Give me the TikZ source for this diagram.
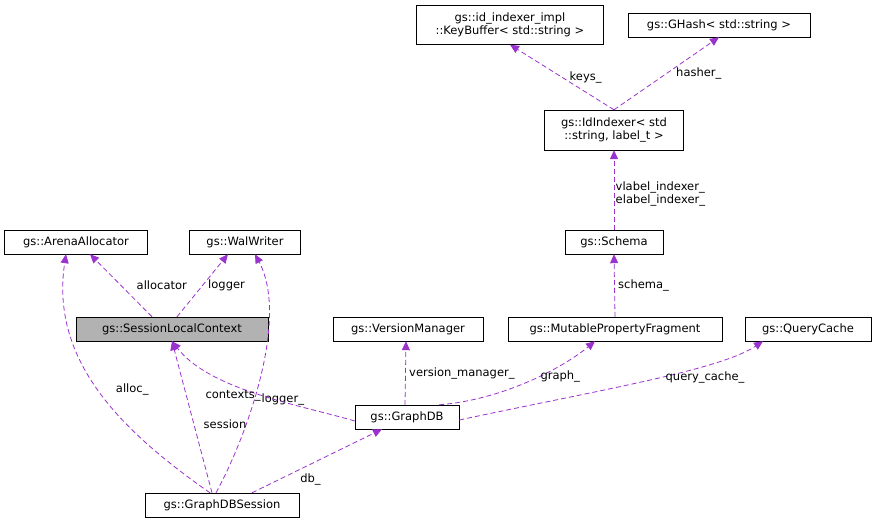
\documentclass[tikz,border=0pt]{standalone}
\usepackage{fontspec}
\setmainfont{DejaVu Sans}
\usetikzlibrary{arrows.meta}
\definecolor{edgepurple}{HTML}{9A32CD}
\tikzset{
  cls/.style={draw, fill=white, inner sep=2pt, align=center, font=\fontsize{11.5}{13}\selectfont},
  rel/.style={draw=edgepurple, line width=0.8pt, dash pattern=on 5pt off 3pt, -{Triangle[width=8pt,length=9pt,fill=edgepurple]}},
  lbl/.style={font=\fontsize{11.5}{12.5}\selectfont, align=left}
}
\begin{document}
\begin{tikzpicture}[x=1pt,y=-1pt]
  \useasboundingbox (0,0) rectangle (875,528);
  % classes
  \node[cls, minimum width=187pt, minimum height=39pt] (keybuf) at (510,25) {gs::id\_indexer\_impl\\::KeyBuffer< std::string >};
  \node[cls, minimum width=182pt, minimum height=24pt] (ghash) at (719,25) {gs::GHash< std::string >};
  \node[cls, minimum width=139pt, minimum height=40pt] (idx) at (614,130) {gs::IdIndexer< std\\::string, label\_t >};
  \node[cls, minimum width=98pt, minimum height=24pt] (schema) at (614,242) {gs::Schema};
  \node[cls, minimum width=143pt, minimum height=24pt] (arena) at (76,242) {gs::ArenaAllocator};
  \node[cls, minimum width=111pt, minimum height=24pt] (wal) at (245,242) {gs::WalWriter};
  \node[cls, fill=black!30, minimum width=192pt, minimum height=24pt] (slc) at (172,329) {gs::SessionLocalContext};
  \node[cls, minimum width=150pt, minimum height=24pt] (vm) at (408,329) {gs::VersionManager};
  \node[cls, minimum width=214pt, minimum height=24pt] (mpf) at (615,329) {gs::MutablePropertyFragment};
  \node[cls, minimum width=126pt, minimum height=24pt] (qc) at (808,329) {gs::QueryCache};
  \node[cls, minimum width=104pt, minimum height=24pt] (gdb) at (407,417) {gs::GraphDB};
  \node[cls, minimum width=154pt, minimum height=24pt] (sess) at (222,505) {gs::GraphDBSession};
  % relations
  \draw[rel] (idx.north) -- (keybuf.south) node[lbl, pos=0.5, right=4pt] {keys\_};
  \draw[rel] (idx.north) -- (ghash.south) node[lbl, pos=0.5, right=6pt] {hasher\_};
  \draw[rel] (schema.north) -- (idx.south) node[lbl, pos=0.45, right=-2pt] {vlabel\_indexer\_\\elabel\_indexer\_};
  \draw[rel] (mpf.north) -- (schema.south) node[lbl, pos=0.5, right=0pt] {schema\_};
  \draw[rel] ([xshift=-20pt]slc.north) -- ([xshift=14pt]arena.south) node[lbl, pos=0.5, right=12pt] {allocator};
  \draw[rel] ([xshift=5pt]slc.north) -- ([xshift=-17pt]wal.south) node[lbl, pos=0.5, right=2pt] {logger};
  \draw[rel] ([xshift=-12pt]sess.north) .. controls (120,430) and (50,360) .. ([xshift=-10pt]arena.south) node[lbl, pos=0.5, right=14pt] {alloc\_};
  \draw[rel] ([xshift=-6pt]sess.north) .. controls (245,440) and (290,320) .. ([xshift=10pt]wal.south) node[lbl, pos=0.42, right=4pt] {logger\_};
  \draw[rel] ([xshift=-10pt]sess.north) -- (slc.south) node[lbl, pos=0.45, right=6pt] {session};
  \draw[rel] ([yshift=-4pt]gdb.west) .. controls (300,405) and (210,390) .. (slc.south) node[lbl, pos=0.62, below=3pt] {contexts\_};
  \draw[rel] ([xshift=-2pt]gdb.north) -- ([xshift=-2pt]vm.south) node[lbl, pos=0.5, right=0pt] {version\_manager\_};
  \draw[rel] ([xshift=-20pt]gdb.north east) .. controls (500,400) and (560,370) .. ([xshift=-20pt]mpf.south) node[lbl, pos=0.72, below=2pt] {graph\_};
  \draw[rel] ([yshift=-3pt]gdb.east) .. controls (600,390) and (720,370) .. ([xshift=-45pt]qc.south) node[lbl, pos=0.7, below=3pt] {query\_cache\_};
  \draw[rel] ([xshift=30pt]sess.north) -- ([xshift=-25pt]gdb.south) node[lbl, pos=0.45, below=6pt] {db\_};
\end{tikzpicture}
\end{document}
